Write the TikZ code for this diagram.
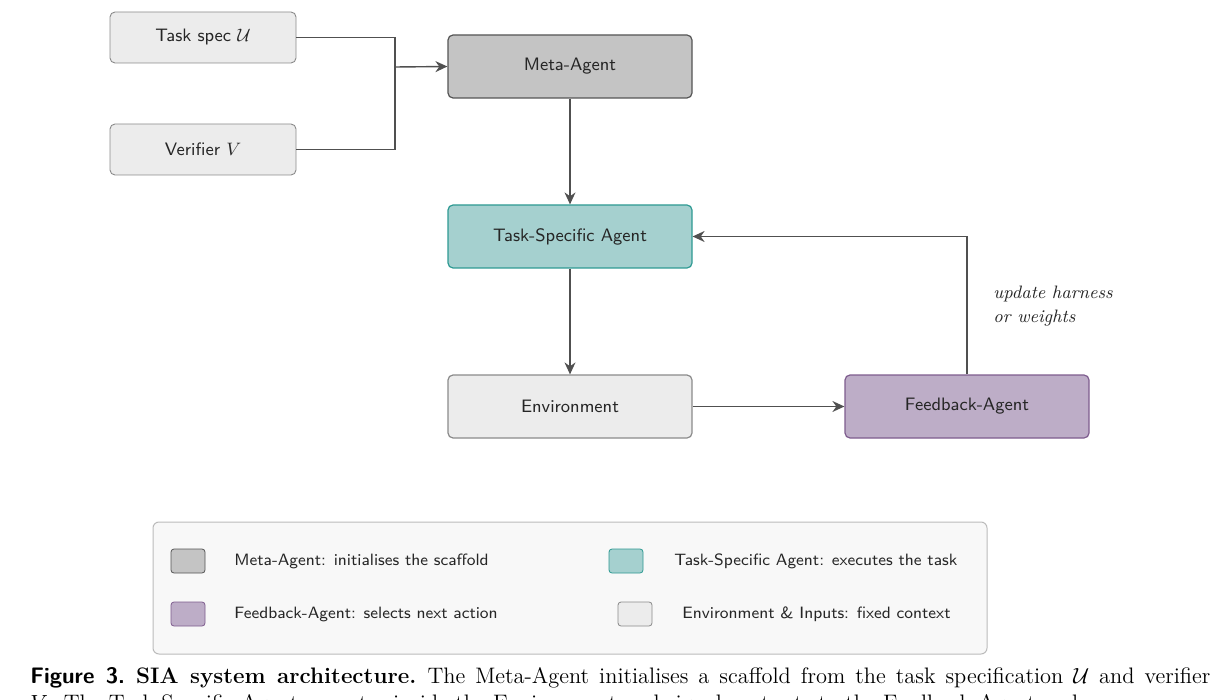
\documentclass[tikz,border=0pt]{standalone}
\usetikzlibrary{arrows.meta}
\definecolor{lineg}{HTML}{505050}
\definecolor{inpfill}{HTML}{ECECEC}
\definecolor{inpdraw}{HTML}{8A8A8A}
\definecolor{metafill}{HTML}{C4C4C4}
\definecolor{metadraw}{HTML}{555555}
\definecolor{tsafill}{HTML}{A5D0CF}
\definecolor{tsadraw}{HTML}{2E9A93}
\definecolor{fbfill}{HTML}{BDADC7}
\definecolor{fbdraw}{HTML}{7E5C8E}
\definecolor{legfill}{HTML}{F8F8F8}
\definecolor{legdraw}{HTML}{BBBBBB}
\definecolor{txt}{HTML}{262626}
\tikzset{
  box/.style={rounded corners=2.5pt, line width=0.6pt, font=\sffamily\small, text=txt,
     minimum width=122pt, minimum height=31.5pt, inner sep=0pt},
  inbox/.style={box, fill=inpfill, draw=inpdraw, minimum width=93pt, minimum height=25.5pt, line width=0.45pt},
  metabox/.style={box, fill=metafill, draw=metadraw},
  tsabox/.style={box, fill=tsafill, draw=tsadraw},
  envbox/.style={box, fill=inpfill, draw=inpdraw},
  fbbox/.style={box, fill=fbfill, draw=fbdraw},
  conn/.style={draw=lineg, line width=0.7pt},
  arr/.style={conn, -{Stealth[length=6pt,width=5.5pt]}},
  swatch/.style={rounded corners=1.5pt, line width=0.4pt, minimum width=17pt, minimum height=12pt, inner sep=0pt},
  legtxt/.style={font=\sffamily\fontsize{8.2}{10}\selectfont, text=txt, anchor=west, inner sep=0pt},
  captxt/.style={anchor=base west, inner sep=0pt, font=\fontsize{11.2}{13.6}\selectfont},
}
\begin{document}
\begin{tikzpicture}[x=0.5pt,y=-0.5pt]
\useasboundingbox (0,0) rectangle (1220,700);
% nodes
\node[inbox] (ts) at (203,37.5) {Task spec $\mathcal{U}$};
\node[inbox] (vf) at (203,149.5) {Verifier $V$};
\node[metabox] (ma) at (570,66.5) {Meta-Agent};
\node[tsabox] (tsa) at (570,236.5) {Task-Specific Agent};
\node[envbox] (env) at (570,406.5) {Environment};
\node[fbbox] (fb) at (967,406.5) {Feedback-Agent};
\coordinate (j) at (395,67);
% connectors
\draw[conn] (ts.east) -| (j);
\draw[conn] (vf.east) -| (j);
\draw[arr] (j) -- (ma.west);
\draw[arr] (ma.south) -- (tsa.north);
\draw[arr] (tsa.south) -- (env.north);
\draw[arr] (env.east) -- (fb.west);
\draw[arr] (fb.north) |- (tsa.east);
\node[font=\itshape\small, text=txt, anchor=north west, align=left, inner sep=0pt] (lbl) at (993,286) {update harness\\[1pt]or weights};
% legend
\node[draw=legdraw, fill=legfill, rounded corners=3pt, line width=0.5pt, minimum width=417pt, minimum height=66pt, inner sep=0pt] (leg) at (570,588) {};
\node[swatch, fill=metafill, draw=metadraw] (s1) at (188,561) {};
\node[legtxt] (t1) at (234,561) {Meta-Agent: initialises the scaffold};
\node[swatch, fill=fbfill, draw=fbdraw] (s2) at (188,614) {};
\node[legtxt] (t2) at (234,614) {Feedback-Agent: selects next action};
\node[swatch, fill=tsafill, draw=tsadraw] (s3) at (626,561) {};
\node[legtxt] (t3) at (674,561) {Task-Specific Agent: executes the task};
\node[swatch, fill=inpfill, draw=inpdraw] (s4) at (635,614) {};
\node[legtxt] (t4) at (682,614) {Environment \& Inputs: fixed context};
% caption
\node[captxt] (cap1) at (30,683) {\hbox to 590pt{{\sffamily\bfseries Figure 3.}\enspace{\bfseries SIA system architecture.}\enspace The Meta-Agent initialises a scaffold from the task specification $\mathcal{U}$ and verifier}};
\node[captxt] (cap2) at (30,710) {$V$. The Task-Specific Agent operates inside the Environment and signals outputs to the Feedback-Agent and};
\end{tikzpicture}
\end{document}
